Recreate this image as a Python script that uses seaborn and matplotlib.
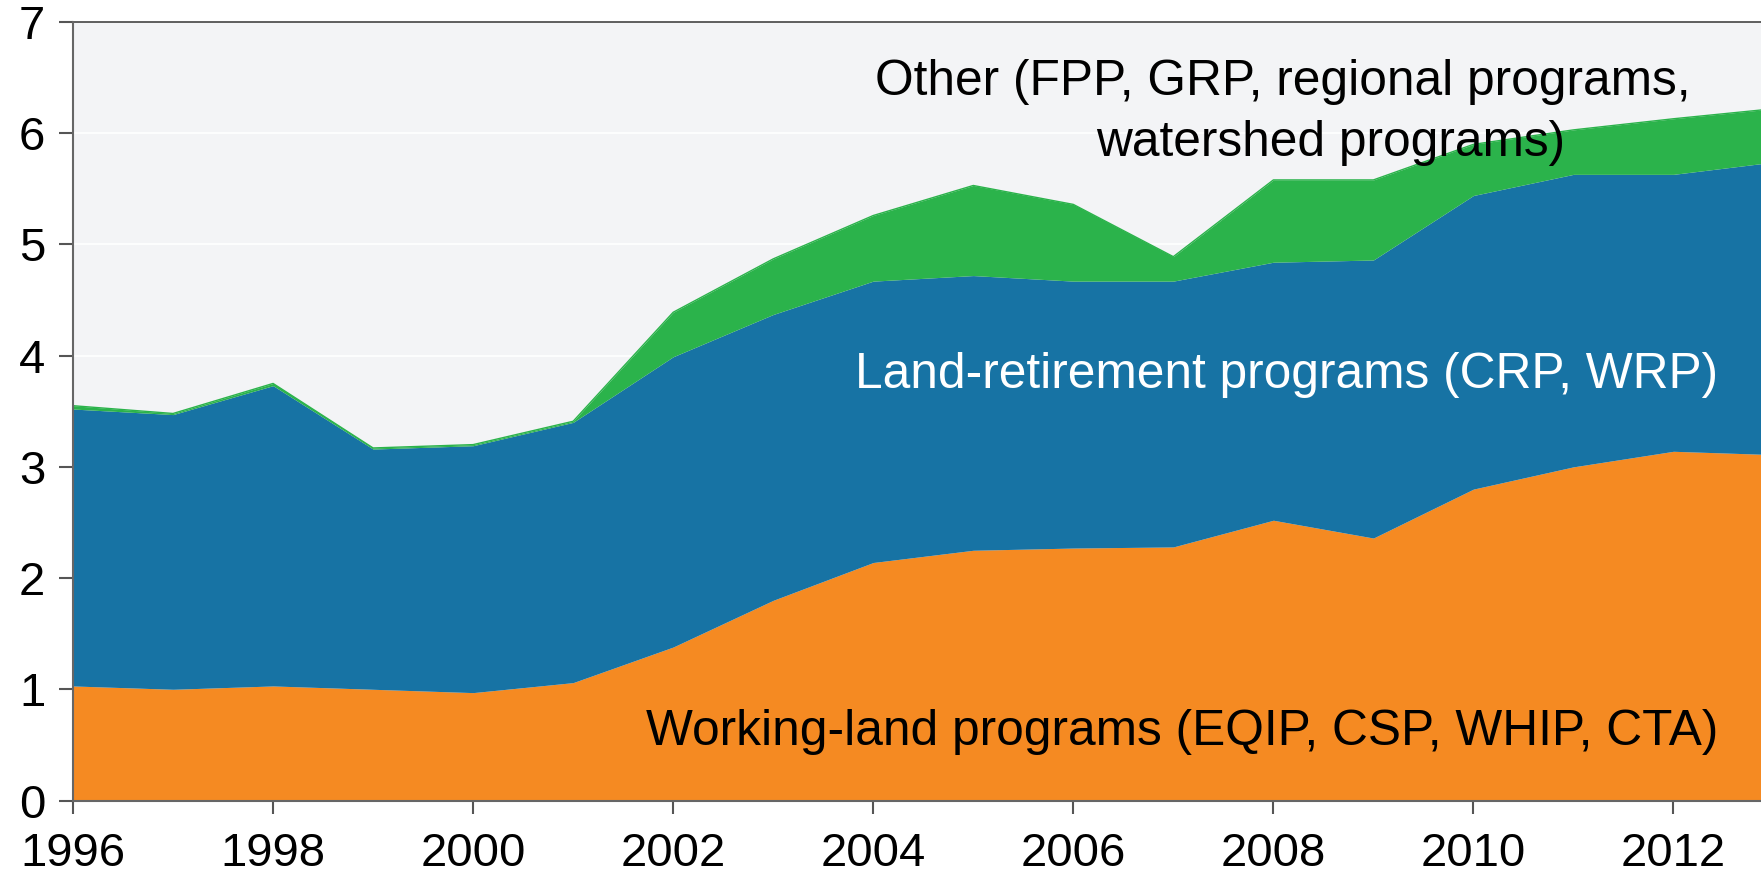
import matplotlib
matplotlib.use("Agg")
import matplotlib.pyplot as plt
import seaborn as sns
import numpy as np
import pandas as pd

years = [1996, 1997, 1998, 1999, 2000, 2001, 2002, 2003, 2004, 2005,
         2006, 2007, 2008, 2009, 2010, 2011, 2012, 2013]
working_land = [1.03, 1.00, 1.03, 1.00, 0.97, 1.06, 1.38, 1.80, 2.14, 2.25,
                2.27, 2.28, 2.52, 2.36, 2.80, 3.00, 3.14, 3.11]
land_retirement_top = [3.52, 3.47, 3.73, 3.16, 3.19, 3.40, 3.99, 4.37, 4.67, 4.72,
                       4.67, 4.67, 4.84, 4.86, 5.44, 5.63, 5.63, 5.74]
other_top = [3.55, 3.48, 3.75, 3.17, 3.20, 3.41, 4.39, 4.87, 5.26, 5.53,
             5.36, 4.89, 5.58, 5.58, 5.90, 6.03, 6.13, 6.22]

land_retirement = [b - a for a, b in zip(working_land, land_retirement_top)]
other = [c - b for b, c in zip(land_retirement_top, other_top)]

df = pd.DataFrame({"year": years, "Working": working_land,
                   "Retirement": land_retirement, "Other": other})

label_working = "Working-land programs (EQIP, CSP, WHIP, CTA)"
label_retire = "Land-retirement programs (CRP, WRP)"
label_other_1 = "Other (FPP, GRP, regional programs,"
label_other_2 = "watershed programs)"

sns.set_theme(style="ticks")
plt.rcParams["font.family"] = ["Liberation Sans", "DejaVu Sans"]

c_orange = "#F58A22"
c_blue = "#1773A4"
c_green = "#2BB34B"
bg = "#F3F4F6"

fig = plt.figure(figsize=(17.61, 8.77), dpi=100)
ax = fig.add_axes([73 / 1761, 1 - 800.5 / 877, 1 - 73 / 1761, (800.5 - 22) / 877])
ax.set_facecolor(bg)

ax.stackplot(df["year"], df["Working"], df["Retirement"], df["Other"],
             colors=[c_orange, c_blue, c_green], linewidth=0, zorder=2)
sns.lineplot(x=df["year"], y=np.array(other_top), ax=ax, color=c_green,
             linewidth=1.0, zorder=3)

ax.set_xlim(1996, 1996 + (1761 - 73) / 100.03)
ax.set_ylim(0, 7)
ax.set_yticks(range(0, 8))
ax.set_xticks(range(1996, 2013, 2))
for yv in range(1, 7):
    ax.axhline(yv, color="white", linewidth=1.2, zorder=1)

ax.tick_params(axis="both", labelsize=34, colors="#555555", labelcolor="black",
               length=10, width=1.5, direction="out", left=True, bottom=True)
ax.tick_params(axis="y", pad=10)
ax.tick_params(axis="x", pad=14, length=9)
ax.set_xlabel("")
ax.set_ylabel("")

for side in ["left", "bottom"]:
    ax.spines[side].set_color("#666666")
    ax.spines[side].set_linewidth(1.5)
ax.spines["top"].set_visible(True)
ax.spines["top"].set_color("#444444")
ax.spines["top"].set_linewidth(1.2)
ax.spines["right"].set_visible(False)
ax.spines["left"].set_zorder(5)
ax.spines["bottom"].set_zorder(5)

fs = 35.7
ax.text(2012.45, 0.62, label_working, ha="right", va="center", fontsize=fs,
        color="black", zorder=6)
ax.text(2012.45, 3.83, label_retire, ha="right", va="center", fontsize=fs,
        color="white", zorder=6)
ax.text(2008.09, 6.46, label_other_1, ha="center", va="center", fontsize=fs,
        color="black", zorder=6)
ax.text(2008.57, 5.91, label_other_2, ha="center", va="center", fontsize=fs,
        color="black", zorder=6)

fig.savefig("out.png", dpi=100)
